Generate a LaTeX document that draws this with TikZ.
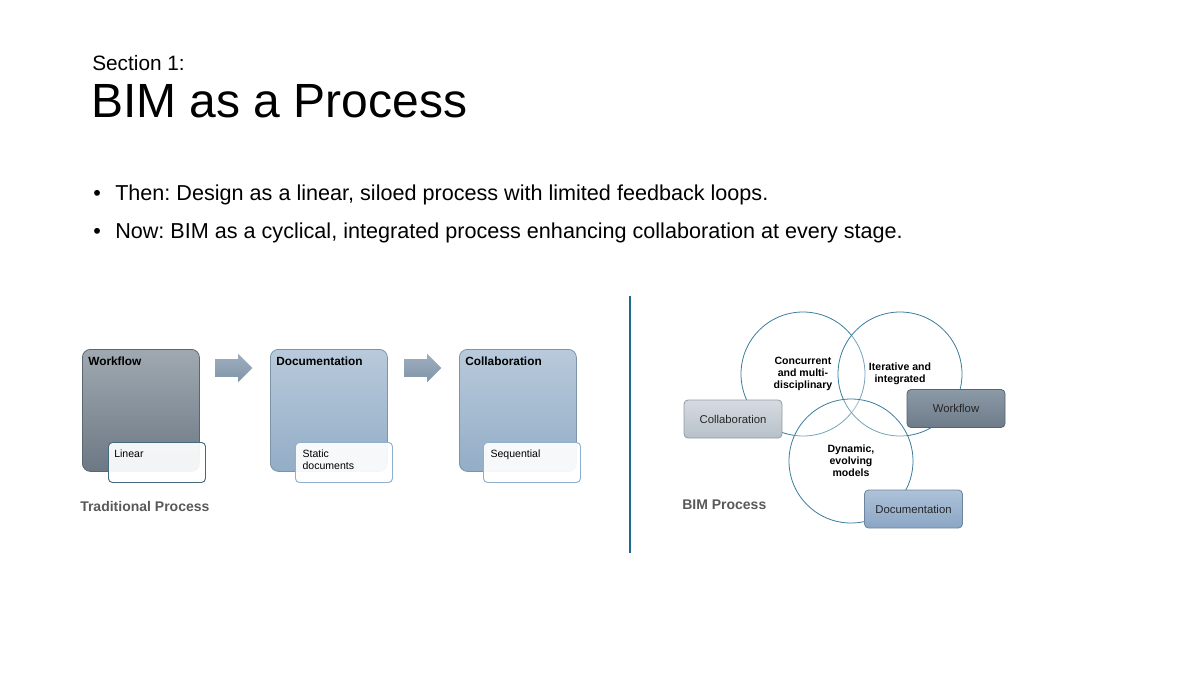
\documentclass[tikz,border=0pt]{standalone}
\usepackage{fontspec}
\setmainfont{Liberation Sans}
\usetikzlibrary{positioning,shapes.arrows}
\frenchspacing

% colours of the slide
\definecolor{wfTop}{HTML}{A0A9B1}
\definecolor{wfBot}{HTML}{6C7884}
\definecolor{blTop}{HTML}{B8CADB}
\definecolor{blBot}{HTML}{93ADC6}
\definecolor{arTop}{HTML}{9DAEBE}
\definecolor{arBot}{HTML}{8195A8}
\definecolor{noteDark}{HTML}{456A7E}
\definecolor{noteLight}{HTML}{8DB0CF}
\definecolor{ringC}{HTML}{3A7C9C}
\definecolor{lineC}{HTML}{1F6A8C}
\definecolor{capGray}{HTML}{595959}
\definecolor{clTop}{HTML}{D6DBE0}
\definecolor{clBot}{HTML}{B7C0C9}
\definecolor{rwTop}{HTML}{8C99A6}
\definecolor{rwBot}{HTML}{6E7C8A}
\definecolor{rdTop}{HTML}{AEC2D9}
\definecolor{rdBot}{HTML}{8AA6C5}

\tikzset{
  stagebox/.style 2 args={rounded corners=6pt, minimum width=87.75pt, minimum height=91.5pt,
    inner sep=0pt, anchor=north west, top color=#1, bottom color=#2, draw=#2!85!black, line width=0.6pt},
  stagetitle/.style={anchor=north west, inner sep=0pt, font=\bfseries\fontsize{8.9}{10}\selectfont},
  notebox/.style={draw=#1, rounded corners=3pt, fill=white, fill opacity=0.92, line width=0.7pt,
    minimum width=72.75pt, minimum height=30pt, inner sep=0pt, anchor=north west},
  notetext/.style={anchor=north west, align=left, inner sep=0pt, font=\fontsize{7.9}{9.2}\selectfont},
  stagearrow/.style={single arrow, single arrow head extend=4.125pt, minimum width=21pt,
    minimum height=27.75pt, inner sep=6.375pt, top color=arTop, bottom color=arBot, anchor=west},
  cyclenode/.style={circle, draw=ringC, line width=0.6pt, minimum size=93pt, inner sep=0pt,
    align=center, fill=white, fill opacity=0.3, text opacity=1,
    font=\bfseries\fontsize{7.9}{9}\selectfont},
  rolebox/.style 2 args={rounded corners=3pt, top color=#1, bottom color=#2, draw=#2!80!black,
    line width=0.6pt, minimum width=73.5pt, minimum height=28.5pt, inner sep=0pt,
    text=black!85, font=\fontsize{8.5}{10}\selectfont},
  captext/.style={anchor=base west, inner sep=0pt, text=capGray, font=\bfseries\fontsize{10.5}{12}\selectfont}
}

\begin{document}
\begin{tikzpicture}[x=0.75pt, y=-0.75pt]
    \useasboundingbox (0,0) rectangle (1200,675);

    % 1. TITLE AND BULLETS
    \node[anchor=base west, inner sep=0pt, font=\fontsize{15.6}{18}\selectfont] (sec) at (92,70) {Section 1:};
    \node[anchor=base west, inner sep=0pt, font=\fontsize{36}{43}\selectfont] (title) at (91,117) {BIM as a Process};

    \node[anchor=base west, inner sep=0pt, font=\fontsize{16.2}{19}\selectfont] (then) at (93,200)
        {\makebox[16.5pt][l]{\textbullet}Then: Design as a linear, siloed process with limited feedback loops.};
    \node[anchor=base west, inner sep=0pt, font=\fontsize{16.2}{19}\selectfont] (now) at (93,238)
        {\makebox[16.5pt][l]{\textbullet}Now: BIM as a cyclical, integrated process enhancing collaboration at every stage.};

    % ==========================================
    % 2. TRADITIONAL PROCESS (left)
    % ==========================================
    \node[stagebox={wfTop}{wfBot}] (wf) at (82,349) {};
    \node[stagebox={blTop}{blBot}] (doc) at (270,349) {};
    \node[stagebox={blTop}{blBot}] (col) at (459,349) {};

    \node[stagetitle] (wfT) at ([xshift=4.5pt, yshift=-5.5pt]wf.north west) {Workflow};
    \node[stagetitle] (docT) at ([xshift=4.5pt, yshift=-5.5pt]doc.north west) {Documentation};
    \node[stagetitle] (colT) at ([xshift=4.5pt, yshift=-5.5pt]col.north west) {Collaboration};

    % arrows between the stages
    \node[stagearrow] (arrA) at (215,368) {};
    \node[stagearrow] (arrB) at (404,368) {};

    % notes under each stage
    \node[notebox=noteDark] (wfN) at (108,442) {};
    \node[notebox=noteLight] (docN) at (295,442) {};
    \node[notebox=noteLight] (colN) at (483,442) {};

    \node[notetext] (wfNT) at ([xshift=4.5pt, yshift=-5.5pt]wfN.north west) {Linear};
    \node[notetext] (docNT) at ([xshift=5.5pt, yshift=-5.5pt]docN.north west) {Static\\documents};
    \node[notetext] (colNT) at ([xshift=5.5pt, yshift=-5.5pt]colN.north west) {Sequential};

    \node[captext] (tradC) at (80,511) {Traditional Process};

    % divider
    \coordinate (divTop) at (630,296);
    \coordinate (divBot) at (630,553);
    \draw[lineC, line width=1.5pt] (divTop) -- (divBot);

    % ==========================================
    % 3. BIM PROCESS (right)
    % ==========================================
    \node[cyclenode] (ringA) at (803,374) {Concurrent\\and multi-\\disciplinary};
    \node[cyclenode] (ringB) at (900,374) {Iterative and\\integrated};
    \node[cyclenode] (ringC) at (851,461) {Dynamic,\\evolving\\models};

    \node[rolebox={clTop}{clBot}] (colR) at (733,419) {Collaboration};
    \node[rolebox={rwTop}{rwBot}] (wfR) at (956,408.5) {Workflow};
    \node[rolebox={rdTop}{rdBot}] (docR) at (913.5,509) {Documentation};

    \node[captext] (bimC) at (682,509) {BIM Process};
\end{tikzpicture}
\end{document}
